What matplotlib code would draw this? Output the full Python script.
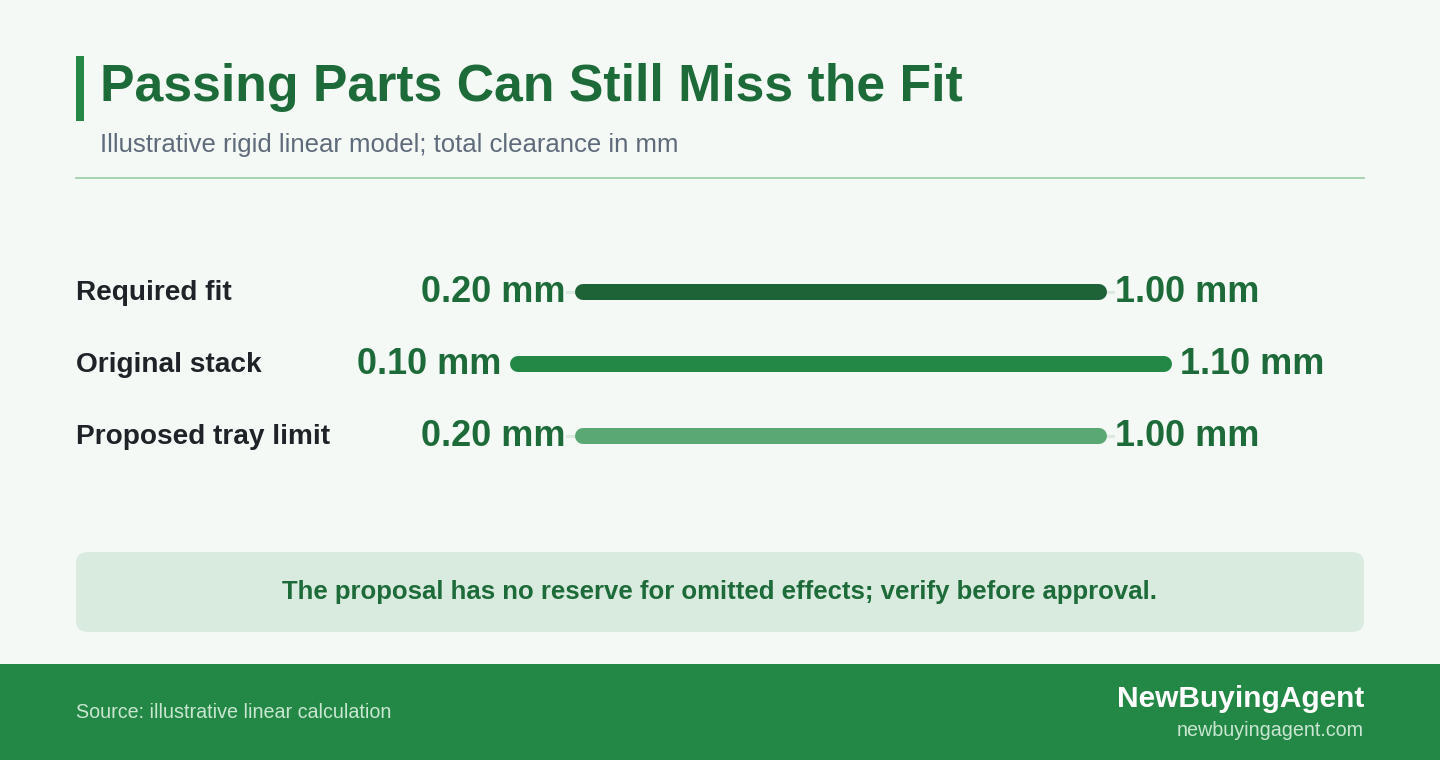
import matplotlib
matplotlib.use("Agg")
import matplotlib.pyplot as plt
from matplotlib.patches import FancyBboxPatch, Rectangle
from matplotlib.lines import Line2D

# ---- data ----
categories = ["Required fit", "Original stack", "Proposed tray limit"]
low_values = [0.20, 0.10, 0.20]
high_values = [1.00, 1.10, 1.00]
bar_colors = ["#1e6337", "#238845", "#5aa873"]

title = "Passing Parts Can Still Miss the Fit"
subtitle = "Illustrative rigid linear model; total clearance in mm"
note = "The proposal has no reserve for omitted effects; verify before approval."
source = "Source: illustrative linear calculation"
brand = "NewBuyingAgent"
site = "newbuyingagent.com"

W, H = 1440, 760
BG = "#f4f9f6"
GREEN = "#238845"
TEXT_GREEN = "#1e6b3a"

plt.rcParams['font.family'] = ['Liberation Sans', 'DejaVu Sans']

fig = plt.figure(figsize=(W / 100, H / 100), dpi=100)
fig.patch.set_facecolor(BG)

# decoration axes in pixel coordinates
deco = fig.add_axes([0, 0, 1, 1])
deco.set_xlim(0, W)
deco.set_ylim(H, 0)
deco.axis("off")

PT = 0.72  # px -> pt

# title accent bar
deco.add_patch(Rectangle((76, 56), 8, 65, facecolor=GREEN, edgecolor="none"))
deco.text(100, 88, title, fontsize=51.7 * PT, fontweight="bold", color=TEXT_GREEN,
          va="center", ha="left")
deco.text(100, 145, subtitle, fontsize=25.7 * PT, color="#5f6b7a", va="center", ha="left")
deco.add_line(Line2D([76, 1364], [178, 178], color="#a9d4b4", linewidth=2 * PT))

# note box
deco.add_patch(FancyBboxPatch((76 + 12, 552 + 12), 1288 - 24, 80 - 24,
                              boxstyle="round,pad=12,rounding_size=12",
                              facecolor="#d9eadf", edgecolor="none"))
deco.text(720, 592, note, fontsize=25.7 * PT, fontweight="bold", color=TEXT_GREEN,
          ha="center", va="center")

# footer
deco.add_patch(Rectangle((0, 664), W, 96, facecolor=GREEN, edgecolor="none"))
deco.text(76, 712, source, fontsize=19.8 * PT, color="#c9e6d1", ha="left", va="center")
deco.text(1364, 699, brand, fontsize=29.9 * PT, fontweight="bold", color="white",
          ha="right", va="center")
deco.text(1364, 731, site, fontsize=19.8 * PT, color="#c9e6d1", ha="right", va="center")

# dumbbell axes: x 0.1 -> px 518, 1.1 -> px 1164 ; rows 72 px tall from y=256
x0_px, x1_px = 518, 1164
y_top, y_bot = 256, 472
ax = fig.add_axes([x0_px / W, 1 - y_bot / H, (x1_px - x0_px) / W, (y_bot - y_top) / H])
ax.set_xlim(0.1, 1.1)
ax.set_ylim(len(categories), 0)
ax.axis("off")
ax.patch.set_alpha(0)

xmin, xmax = min(low_values), max(high_values)
for i, (cat, lo, hi, col) in enumerate(zip(categories, low_values, high_values, bar_colors)):
    y = i + 0.5
    ax.plot([xmin, xmax], [y, y], color="#dce9e1", linewidth=3 * PT,
            solid_capstyle="butt", zorder=1, clip_on=False)
    ax.plot([lo, hi], [y, y], color=col, linewidth=16 * PT,
            solid_capstyle="round", zorder=2, clip_on=False)
    ax.annotate(f"{lo:.2f} mm", xy=(lo, y), xytext=(-17 * PT, 0), textcoords="offset points",
                ha="right", va="center", fontsize=36 * PT, fontweight="bold", color=TEXT_GREEN,
                zorder=3, bbox=dict(facecolor=BG, edgecolor="none", pad=0))
    ax.annotate(f"{hi:.2f} mm", xy=(hi, y), xytext=(16 * PT, 0), textcoords="offset points",
                ha="left", va="center", fontsize=36 * PT, fontweight="bold", color=TEXT_GREEN,
                zorder=3, bbox=dict(facecolor=BG, edgecolor="none", pad=0))
    ax.text((76 - x0_px) / (x1_px - x0_px), y + 0.01, cat, transform=ax.get_yaxis_transform(),
            ha="left", va="center", fontsize=28 * PT, fontweight="bold", color="#1f2328")

fig.savefig("out.png", dpi=100, facecolor=BG)
